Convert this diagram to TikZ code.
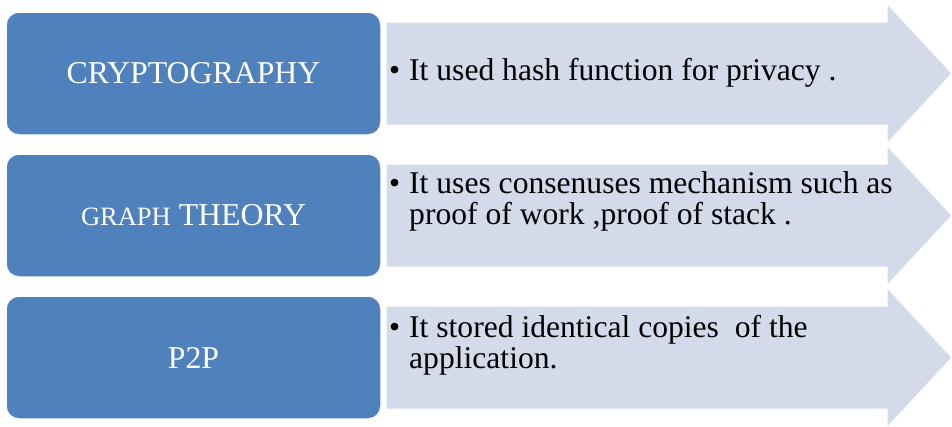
\documentclass[tikz,border=0pt]{standalone}
\usepackage{fontspec}
\setmainfont{Liberation Serif}
\definecolor{boxblue}{HTML}{4F81BD}
\definecolor{arrowfill}{HTML}{D3DAEA}
\begin{document}
\begin{tikzpicture}[x=1pt,y=-1pt,
  catbox/.style={fill=boxblue,draw=white,line width=1.5pt,rounded corners=13pt},
  arrowshape/.style={fill=arrowfill,draw=white,line width=1pt},
  cattext/.style={text=white,font=\fontsize{31.8}{36}\selectfont,inner sep=0pt},
  desctext/.style={text=black,font=\fontsize{31.6}{31}\selectfont,inner sep=0pt,anchor=base west},
  bullettext/.style={text=black,font=\fontsize{31.5}{31}\selectfont,inner sep=0pt,anchor=base west}]
\useasboundingbox (0,0) rectangle (952,426);
% arrows
\foreach \c in {73.5,215.5,357.5}{
  \draw[arrowshape] (386,\c-51.5) -- (887,\c-51.5) -- (887,\c-70) -- (952,\c) -- (887,\c+70) -- (887,\c+51.5) -- (386,\c+51.5) -- cycle;
}
% boxes
\draw[catbox] (6,12) rectangle (381,135);
\draw[catbox] (6,154) rectangle (381,277);
\draw[catbox] (6,296) rectangle (381,419);
\node[cattext] (c1) at (193.5,73.5) {CRYPTOGRAPHY};
\node[cattext] (c2) at (193.5,215.5) {{\fontsize{26.5}{28}\selectfont GRAPH} THEORY};
\node[cattext] (c3) at (193.5,357.5) {P2P};
% descriptions
\node[bullettext] (b1) at (389,80) {\textbullet};
\node[desctext] (d1) at (409,80) {It used hash function for privacy .};
\node[bullettext] (b2) at (389,193) {\textbullet};
\node[desctext] (d2) at (409,193) {\begin{tabular}[t]{@{}l@{}}It uses consenuses mechanism such as\\proof of work ,proof of stack .\end{tabular}};
\node[bullettext] (b3) at (389,337) {\textbullet};
\node[desctext] (d3) at (409,337) {\begin{tabular}[t]{@{}l@{}}It stored identical copies\ \ of the\\application.\end{tabular}};
\end{tikzpicture}
\end{document}
